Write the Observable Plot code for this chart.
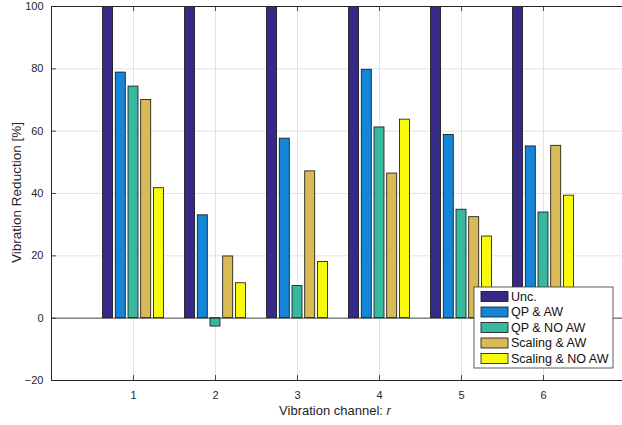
<!DOCTYPE html>
<html>
<head>
<meta charset="utf-8">
<script src="https://cdn.jsdelivr.net/npm/d3@7"></script>
<script src="https://cdn.jsdelivr.net/npm/@observablehq/plot@0.6"></script>
<style>
  html, body { margin: 0; padding: 0; background: #fff; }
  #chart { position: relative; width: 622px; height: 425px; }
  svg { font-family: "Liberation Sans", Arial, Helvetica, sans-serif; }
</style>
</head>
<body>
<div id="chart"></div>
<script>
const channels = [1, 2, 3, 4, 5, 6];
const seriesNames = ["Unc.", "QP & AW", "QP & NO AW", "Scaling & AW", "Scaling & NO AW"];
const seriesColors = ["#352a87", "#1585d8", "#38b89e", "#d8ba56", "#f8fa0d"];
const unc        = [100, 100, 100, 100, 100, 100];
const qpAw       = [78.8, 33.0, 57.6, 79.7, 58.8, 55.1];
const qpNoAw     = [74.3, -2.7, 10.3, 61.2, 34.8, 33.9];
const scalingAw  = [70.0, 19.8, 47.1, 46.4, 32.4, 55.3];
const scalingNoAw= [41.7, 11.2, 18.0, 63.7, 26.2, 39.3];
const yTicks = [-20, 0, 20, 40, 60, 80, 100];

const seriesValues = [unc, qpAw, qpNoAw, scalingAw, scalingNoAw];
const step = 0.155, bw = 0.122;
const rows = [];
seriesValues.forEach((vals, j) => {
  vals.forEach((v, i) => {
    const c = channels[i] + (j - 2) * step;
    rows.push({series: seriesNames[j], x1: c - bw / 2, x2: c + bw / 2, value: v});
  });
});

const axisColor = "#262626";
const pxPerX = 82, pxPerY = 3.115;
const tickLenX = 5 / pxPerX, tickLenY = 5 / pxPerY;

const chart = Plot.plot({
  width: 622,
  height: 425,
  marginLeft: 51,
  marginRight: -3,
  marginTop: 6,
  marginBottom: 45,
  style: {fontFamily: "'Liberation Sans', Arial, Helvetica, sans-serif", fontSize: "11px", color: axisColor, background: "white"},
  x: {domain: [0, 7], axis: null},
  y: {domain: [-20, 100], axis: null},
  color: {domain: seriesNames, range: seriesColors},
  marks: [
    Plot.ruleY(yTicks.filter(d => d > -20 && d < 100), {stroke: "#e3e3e3", strokeWidth: 1}),
    Plot.ruleX(channels, {y1: -20, y2: 100, stroke: "#e3e3e3", strokeWidth: 1}),
    Plot.rectY(rows, {x1: "x1", x2: "x2", y1: 0, y2: "value", fill: "series", stroke: "#111", strokeWidth: 0.8, clip: true}),
    Plot.ruleY([0], {stroke: axisColor, strokeWidth: 0.8}),
    Plot.ruleY([100, -20], {x1: 0, x2: 7, stroke: axisColor, strokeWidth: 1}),
    Plot.ruleX([0], {y1: -20, y2: 100, stroke: axisColor, strokeWidth: 1}),
    Plot.ruleY(yTicks, {x1: 0, x2: tickLenX, stroke: axisColor, strokeWidth: 0.8}),
    Plot.ruleX(channels, {y1: -20, y2: -20 + tickLenY, stroke: axisColor, strokeWidth: 0.8}),
    Plot.ruleX(channels, {y1: 100, y2: 100 - tickLenY, stroke: axisColor, strokeWidth: 0.8}),
    Plot.axisY(yTicks, {tickSize: 0, tickPadding: 8, fontSize: 11, fill: axisColor, label: null}),
    Plot.axisX(channels, {tickSize: 0, tickPadding: 11, fontSize: 11, fill: axisColor, label: null})
  ]
});

document.getElementById("chart").appendChild(chart);

const svg = d3.select(chart);
const xs = chart.scale("x"), ys = chart.scale("y");

// y-axis label
svg.append("text")
  .attr("transform", `translate(16,192.5) rotate(-90)`)
  .attr("text-anchor", "middle")
  .attr("dy", "0.35em")
  .attr("font-size", 13.5)
  .attr("fill", axisColor)
  .text("Vibration Reduction [%]");

// x-axis label with italic r
const xl = svg.append("text")
  .attr("x", (xs.apply(0) + xs.apply(7)) / 2 - 3)
  .attr("y", 415)
  .attr("text-anchor", "middle")
  .attr("font-size", 13)
  .attr("fill", axisColor);
xl.append("tspan").text("Vibration channel: ");
xl.append("tspan").attr("font-style", "italic").text("r");

// legend
const lg = svg.append("g").attr("transform", "translate(474,287)").attr("text-anchor", "start");
lg.append("rect").attr("width", 139).attr("height", 81)
  .attr("fill", "white").attr("stroke", "#333").attr("stroke-width", 0.8);
const color = chart.scale("color");
seriesNames.forEach((name, i) => {
  const yy = 4.5 + i * 15.5;
  lg.append("rect").attr("x", 7).attr("y", yy).attr("width", 27).attr("height", 10)
    .attr("fill", color.apply(name)).attr("stroke", "#111").attr("stroke-width", 0.8);
  lg.append("text").attr("x", 37).attr("y", yy + 5).attr("dy", "0.35em")
    .attr("text-anchor", "start")
    .attr("font-size", 12.5).attr("fill", "#111").text(name);
});
</script>
</body>
</html>
